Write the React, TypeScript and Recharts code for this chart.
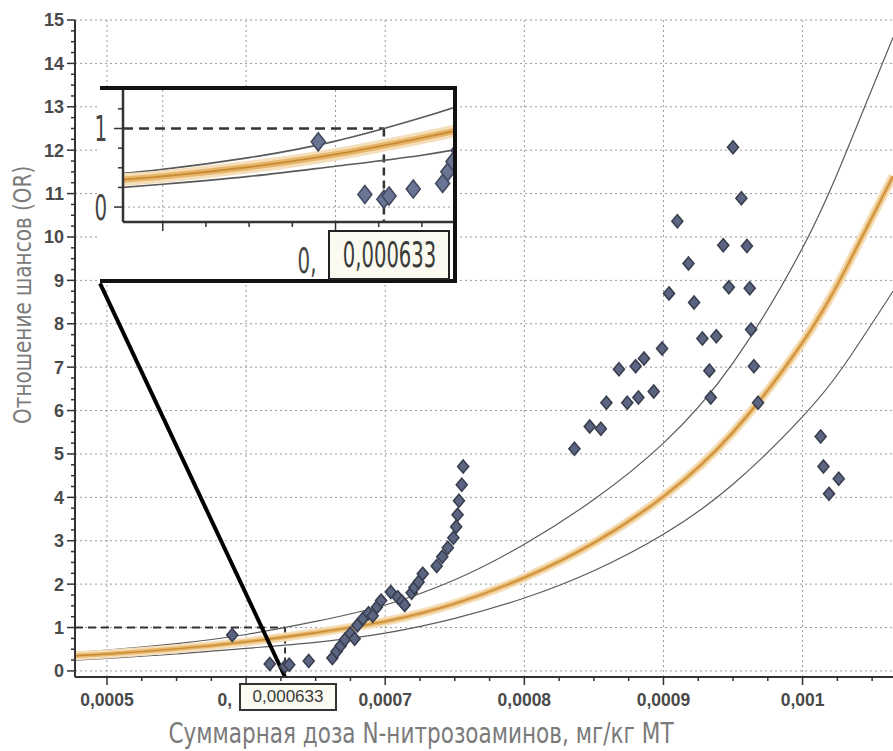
import React from "react";
import {
  CartesianGrid,
  ComposedChart,
  Line,
  ReferenceLine,
  Scatter,
  XAxis,
  YAxis,
} from "recharts";

const NARROW = "'DejaVu Sans', 'Liberation Sans', sans-serif";
const SANS = "'Liberation Sans', Arial, sans-serif";

// fitted curve + 95% CI
const CURVE_DOSE = [0.000477, 0.0005, 0.00055, 0.0006, 0.00065, 0.0007, 0.00075, 0.0008, 0.00085, 0.0009, 0.00095, 0.001, 0.00103, 0.001065];
const OR_FIT = [0.35, 0.39, 0.51, 0.67, 0.88, 1.14, 1.55, 2.15, 2.95, 4.02, 5.5, 7.57, 9.2, 11.4];
const OR_UPPER = [0.43, 0.48, 0.63, 0.84, 1.14, 1.52, 2.1, 2.92, 3.95, 5.25, 7.1, 9.75, 11.85, 14.6];
const OR_LOWER = [0.25, 0.29, 0.39, 0.52, 0.66, 0.87, 1.21, 1.68, 2.31, 3.15, 4.3, 5.86, 7.05, 8.75];

// observed points
const OBS_DOSE = [
  0.00059, 0.000617, 0.000628, 0.000631, 0.000645, 0.000662, 0.000665, 0.000668, 0.000671, 0.000675,
  0.000678, 0.00068, 0.000684, 0.000688, 0.000691, 0.000694, 0.000697, 0.000704, 0.000709, 0.000712,
  0.000714, 0.000719, 0.000721, 0.000724, 0.000727, 0.000737, 0.000741, 0.000745, 0.000749, 0.000751,
  0.000752, 0.000753, 0.000755, 0.000756,
  0.000836, 0.000847, 0.000855, 0.000859, 0.000868, 0.000874, 0.00088, 0.000882, 0.000886, 0.000893,
  0.000899, 0.000904, 0.00091, 0.000918, 0.000922, 0.000928, 0.000933, 0.000934, 0.000938, 0.000943,
  0.000947, 0.00095, 0.000956, 0.00096, 0.000962, 0.000963, 0.000965, 0.000968,
  0.001013, 0.001015, 0.001019, 0.001026,
];
const OBS_OR = [
  0.83, 0.16, 0.1, 0.14, 0.23, 0.3, 0.45, 0.58, 0.72, 0.86,
  0.74, 1.05, 1.2, 1.33, 1.27, 1.47, 1.62, 1.82, 1.7, 1.6,
  1.52, 1.8, 1.92, 2.05, 2.24, 2.42, 2.63, 2.84, 3.07, 3.32,
  3.6, 3.92, 4.29, 4.71,
  5.12, 5.63, 5.58, 6.18, 6.95, 6.18, 7.02, 6.3, 7.2, 6.44,
  7.43, 8.7, 10.36, 9.39, 8.49, 7.66, 6.92, 6.3, 7.71, 9.81,
  8.84, 12.07, 10.89, 9.79, 8.82, 7.87, 7.02, 6.18,
  5.4, 4.71, 4.08, 4.43,
];

const X_MAJOR = [0.0005, 0.0006, 0.0007, 0.0008, 0.0009, 0.001];
// 0,0006 is mostly hidden by the threshold box, only "0," shows
const X_LABELS = ["0,0005", "0,", "0,0007", "0,0008", "0,0009", "0,001"];
const Y_MAJOR = [0, 1, 2, 3, 4, 5, 6, 7, 8, 9, 10, 11, 12, 13, 14, 15];
const THRESHOLD_DOSE = 0.000628;
const THRESHOLD_TEXT = "0,000633";
const X_TITLE = "Суммарная доза N-нитрозоаминов, мг/кг МТ";
const Y_TITLE = "Отношение шансов (OR)";

const toPts = (xs: number[], ys: number[]) => xs.map((x, i) => ({ x, y: ys[i] }));
const fit = toPts(CURVE_DOSE, OR_FIT);
const upper = toPts(CURVE_DOSE, OR_UPPER);
const lower = toPts(CURVE_DOSE, OR_LOWER);
const obs = toPts(OBS_DOSE, OBS_OR);

const X_TICKS = Array.from({ length: 23 }, (_, i) => +(0.0005 + i * 0.000025).toFixed(7));
const Y_TICKS = Array.from({ length: 61 }, (_, i) => i * 0.25);
const INSET_X_TICKS = Array.from({ length: 7 }, (_, i) => +(0.0005 + i * 0.000025).toFixed(7));
const INSET_Y_TICKS = [0, 0.25, 0.5, 0.75, 1, 1.25];

const near = (a: number, b: number) => Math.abs(a - b) < 1e-9;
const majorIdx = (v: number, list: number[]) => list.findIndex((m) => near(m, v));

type TickStyle = { font: string; size: number; weight: number; color: string; sx: number; big: number; small: number };

function makeXTick(labels: string[], majors: number[], o: TickStyle & { dy: number; shortShift: number }) {
  return (p: any) => {
    const { x, y, payload } = p;
    const idx = majorIdx(payload.value, majors);
    const major = idx >= 0;
    const label = major ? labels[idx] : "";
    const isShort = label === "0,";
    const tx = isShort ? x - o.shortShift : x;
    return (
      <g>
        <line x1={x} x2={x} y1={y} y2={y + (major ? o.big : o.small)} stroke="#333" strokeWidth={1.5} />
        {label && (
          <text
            transform={`translate(${tx},${y + o.dy}) scale(${o.sx},1)`}
            textAnchor={isShort ? "end" : "middle"}
            fontFamily={o.font}
            fontSize={o.size}
            fontWeight={o.weight}
            fill={o.color}
          >
            {label}
          </text>
        )}
      </g>
    );
  };
}

function makeYTick(majors: number[], o: TickStyle & { gap: number }) {
  return (p: any) => {
    const { x, y, payload } = p;
    const major = majorIdx(payload.value, majors) >= 0;
    return (
      <g>
        <line x1={x} x2={x - (major ? o.big : o.small)} y1={y} y2={y} stroke="#333" strokeWidth={1.5} />
        {major && (
          <text
            transform={`translate(${x - o.gap},${y}) scale(${o.sx},1)`}
            dy="0.36em"
            textAnchor="end"
            fontFamily={o.font}
            fontSize={o.size}
            fontWeight={o.weight}
            fill={o.color}
          >
            {payload.value}
          </text>
        )}
      </g>
    );
  };
}

const mainXTick = makeXTick(X_LABELS, X_MAJOR, { font: SANS, size: 17.5, weight: 700, color: "#4a4a4a", sx: 1, dy: 29, big: 8, small: 4, shortShift: 14 });
const mainYTick = makeYTick(Y_MAJOR, { font: SANS, size: 18, weight: 700, color: "#4a4a4a", sx: 1, gap: 11, big: 8, small: 4 });
const insetXTick = makeXTick(["", "0,"], [0.0005, 0.0006], { font: NARROW, size: 36, weight: 400, color: "#444", sx: 0.55, dy: 51, big: 9, small: 5, shortShift: 19 });
const insetYTick = makeYTick([0, 1], { font: NARROW, size: 36, weight: 400, color: "#444", sx: 0.55, gap: 16, big: 9, small: 5 });

function diamond(w: number, h: number, fill: string, stroke: string) {
  return (p: any) => {
    const { cx, cy } = p;
    if (cx == null || cy == null) return <g />;
    return (
      <polygon
        points={`${cx},${cy - h} ${cx + w},${cy} ${cx},${cy + h} ${cx - w},${cy}`}
        fill={fill}
        stroke={stroke}
        strokeWidth={1.6}
      />
    );
  };
}

function curves(scale: number) {
  return [
    <Line key="u" data={upper} dataKey="y" type="natural" stroke="#5a5a5a" strokeWidth={1.2 * scale} dot={false} isAnimationActive={false} />,
    <Line key="l" data={lower} dataKey="y" type="natural" stroke="#5a5a5a" strokeWidth={1.2 * scale} dot={false} isAnimationActive={false} />,
    <Line key="f1" data={fit} dataKey="y" type="natural" stroke="#f5dfbb" strokeWidth={9 * scale} dot={false} isAnimationActive={false} />,
    <Line key="f2" data={fit} dataKey="y" type="natural" stroke="#e8b66a" strokeWidth={4.5 * scale} dot={false} isAnimationActive={false} />,
    <Line key="f3" data={fit} dataKey="y" type="natural" stroke="#c78b35" strokeWidth={1.3 * scale} dot={false} isAnimationActive={false} />,
  ];
}

export default function App() {
  return (
    <div style={{ position: "relative", width: 893, height: 751, background: "#fff", overflow: "hidden" }}>
      <style>{"body{margin:0}"}</style>
      <ComposedChart width={893} height={751} margin={{ top: 20, right: 0, bottom: 0, left: 0 }}>
        <CartesianGrid stroke="#9a9a9a" strokeDasharray="2 3" horizontalValues={Y_MAJOR} verticalValues={X_MAJOR} />
        <XAxis
          type="number"
          dataKey="x"
          domain={[0.000477, 0.001065]}
          allowDataOverflow
          ticks={X_TICKS}
          interval={0}
          tickSize={0}
          tickMargin={0}
          tickLine={false}
          tick={mainXTick}
          axisLine={{ stroke: "#333", strokeWidth: 2 }}
          height={74}
        />
        <YAxis
          type="number"
          dataKey="y"
          domain={[-0.14, 15]}
          allowDataOverflow
          ticks={Y_TICKS}
          interval={0}
          tickSize={0}
          tickMargin={0}
          tickLine={false}
          tick={mainYTick}
          axisLine={{ stroke: "#333", strokeWidth: 2 }}
          width={75}
        />
        <ReferenceLine segment={[{ x: 0.000477, y: 1 }, { x: THRESHOLD_DOSE, y: 1 }]} stroke="#333" strokeWidth={2} strokeDasharray="8 5" ifOverflow="visible" />
        <ReferenceLine segment={[{ x: THRESHOLD_DOSE, y: 1 }, { x: THRESHOLD_DOSE, y: 0 }]} stroke="#333" strokeWidth={2} strokeDasharray="6 4" ifOverflow="visible" />
        {curves(1)}
        <Scatter data={obs} shape={diamond(5.5, 6.5, "#5b6582", "#3a3f50")} isAnimationActive={false} />
        <ReferenceLine segment={[{ x: 0.000495, y: 8.93 }, { x: THRESHOLD_DOSE, y: -0.14 }]} stroke="#000" strokeWidth={4} ifOverflow="visible" />
      </ComposedChart>

      {/* inset frame */}
      <div
        style={{
          position: "absolute",
          left: 100,
          top: 86,
          width: 357,
          height: 197,
          boxSizing: "border-box",
          background: "#fff",
          borderTop: "4px solid #111",
          borderRight: "4px solid #111",
          borderBottom: "4px solid #111",
        }}
      />
      <div style={{ position: "absolute", left: 80, top: 86 }}>
        <ComposedChart width={377} height={197} margin={{ top: 4, right: 4, bottom: 0, left: 0 }}>
          <CartesianGrid stroke="#9a9a9a" strokeDasharray="2 3" horizontalValues={[0]} verticalValues={[0.0005, 0.0006]} />
          <XAxis
            type="number"
            dataKey="x"
            domain={[0.000477, 0.000668]}
            allowDataOverflow
            ticks={INSET_X_TICKS}
            interval={0}
            tickSize={0}
            tickMargin={0}
            tickLine={false}
            tick={insetXTick}
            axisLine={{ stroke: "#333", strokeWidth: 2.5 }}
            height={61}
          />
          <YAxis
            type="number"
            dataKey="y"
            domain={[-0.19, 1.49]}
            allowDataOverflow
            ticks={INSET_Y_TICKS}
            interval={0}
            tickSize={0}
            tickMargin={0}
            tickLine={false}
            tick={insetYTick}
            axisLine={{ stroke: "#333", strokeWidth: 2.5 }}
            width={43}
          />
          <ReferenceLine segment={[{ x: 0.000477, y: 1 }, { x: THRESHOLD_DOSE, y: 1 }]} stroke="#333" strokeWidth={2.5} strokeDasharray="10 6" ifOverflow="visible" />
          <ReferenceLine segment={[{ x: THRESHOLD_DOSE, y: 1 }, { x: THRESHOLD_DOSE, y: -0.19 }]} stroke="#333" strokeWidth={2.5} strokeDasharray="8 5" ifOverflow="visible" />
          {curves(1.4)}
          <Scatter data={obs} shape={diamond(7, 9, "#6a7596", "#424a5e")} isAnimationActive={false} />
        </ComposedChart>
      </div>

      {/* threshold label boxes */}
      <div
        style={{
          position: "absolute",
          left: 328,
          top: 230,
          width: 122,
          height: 50,
          boxSizing: "border-box",
          border: "2.5px solid #222",
          background: "#fafaf0",
          display: "flex",
          alignItems: "center",
          justifyContent: "center",
          overflow: "hidden",
        }}
      >
        <span style={{ display: "inline-block", fontFamily: NARROW, fontSize: 35, color: "#3a3a3a", transform: "scaleX(0.56)", whiteSpace: "nowrap", lineHeight: "40px" }}>
          {THRESHOLD_TEXT}
        </span>
      </div>
      <div
        style={{
          position: "absolute",
          left: 239,
          top: 683,
          width: 98,
          height: 28,
          boxSizing: "border-box",
          border: "2px solid #333",
          background: "#fbfbf1",
          fontFamily: SANS,
          fontSize: 17,
          color: "#3a3a3a",
          display: "flex",
          alignItems: "center",
          justifyContent: "center",
        }}
      >
        {THRESHOLD_TEXT}
      </div>

      {/* axis titles */}
      <div
        style={{
          position: "absolute",
          left: 421 - 400,
          top: 718,
          width: 800,
          lineHeight: "32px",
          textAlign: "center",
          fontFamily: NARROW,
          fontSize: 28,
          color: "#7a7a7a",
          whiteSpace: "nowrap",
          transform: "scaleX(0.77)",
        }}
      >
        {X_TITLE}
      </div>
      <div
        style={{
          position: "absolute",
          left: 23 - 160,
          top: 296 - 16,
          width: 320,
          height: 32,
          lineHeight: "32px",
          textAlign: "center",
          transform: "rotate(-90deg) scaleX(0.8)",
          fontFamily: NARROW,
          fontSize: 25,
          color: "#7a7a7a",
          whiteSpace: "nowrap",
        }}
      >
        {Y_TITLE}
      </div>
    </div>
  );
}
